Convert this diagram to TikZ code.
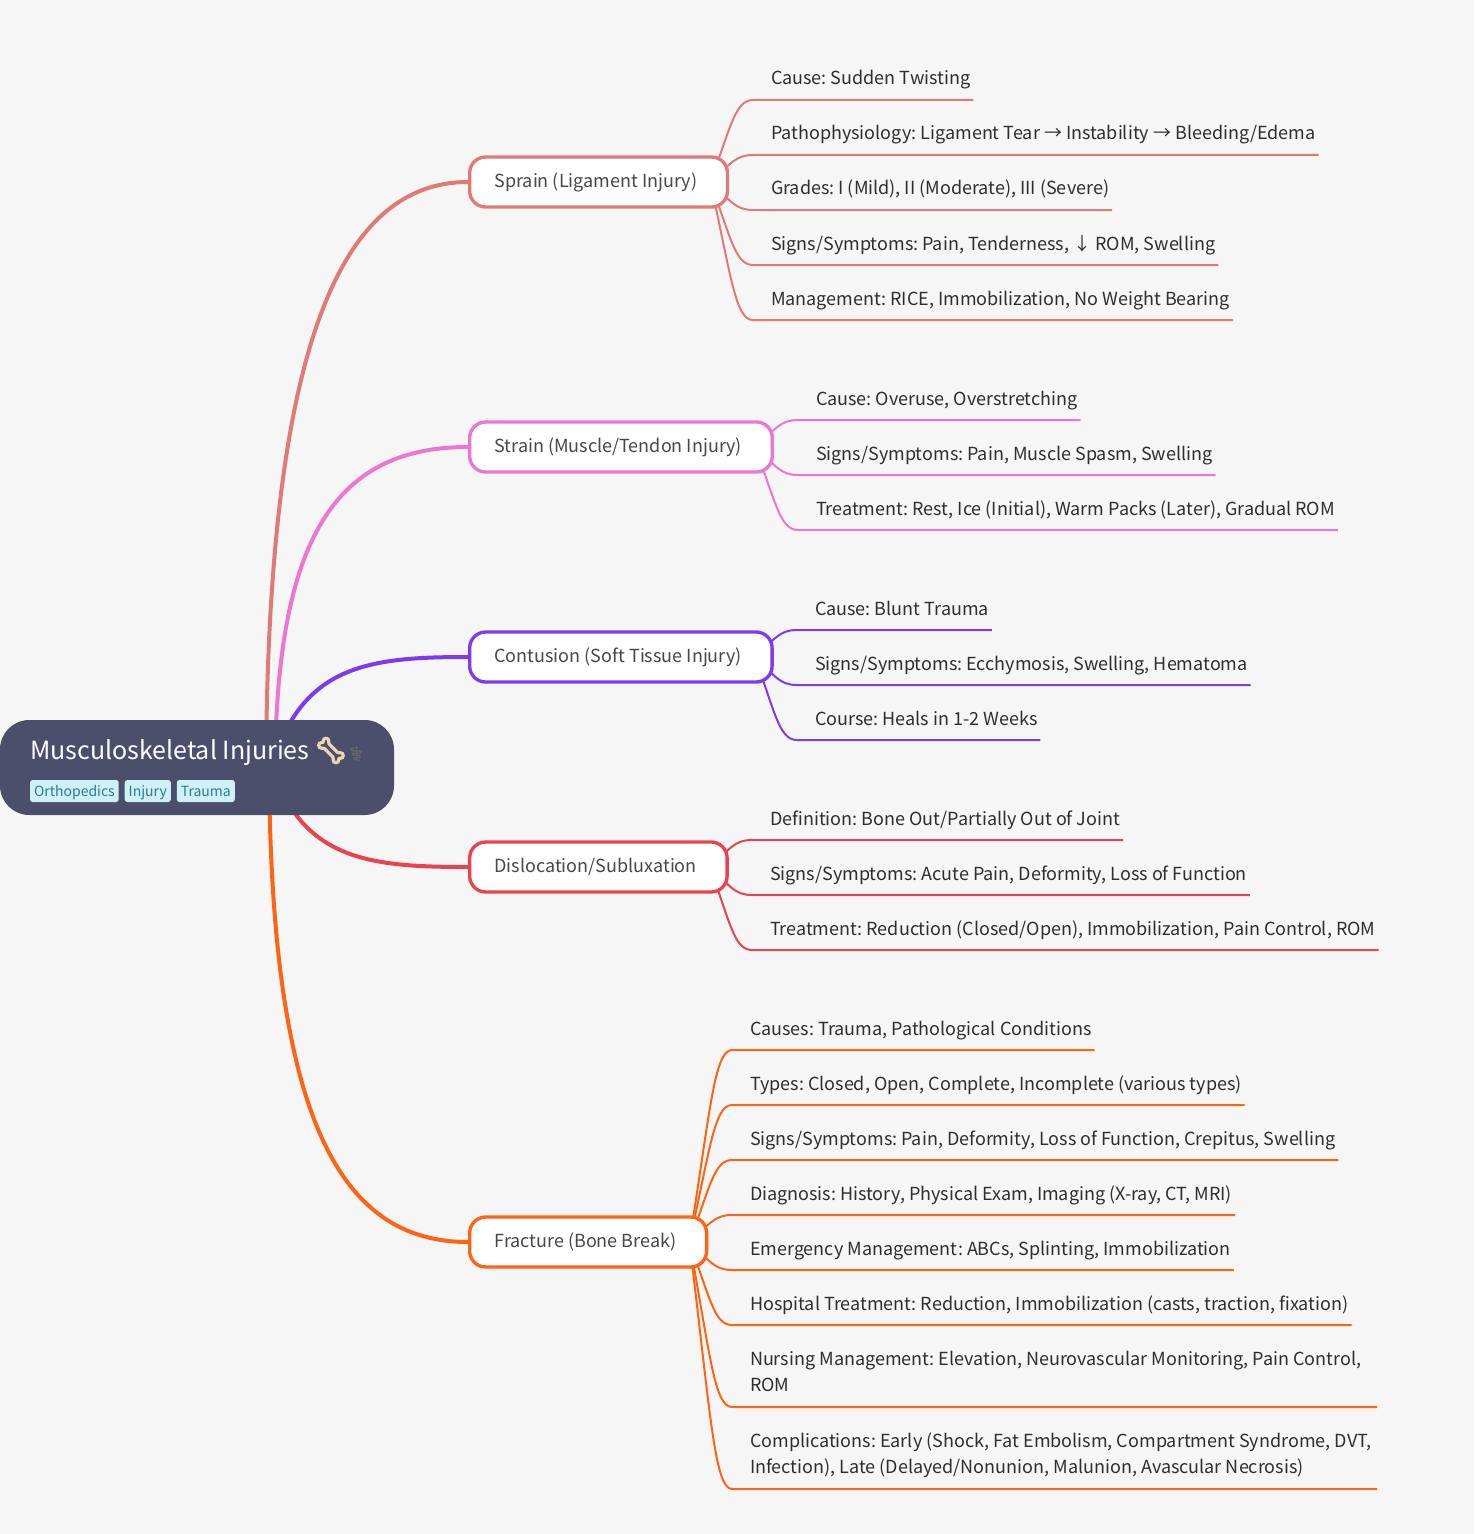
\documentclass[tikz,border=0pt]{standalone}
\usepackage{fontspec}
\setmainfont{Noto Sans CJK SC}
\newfontfamily\emojifont[FakeBold=9]{Noto Emoji}
\newfontfamily\symbolfont{Noto Emoji}
\frenchspacing
\usetikzlibrary{positioning,calc,backgrounds}

\definecolor{pagebg}{HTML}{F6F6F6}
\definecolor{rootbg}{HTML}{4C4F6B}
\definecolor{tagbg}{HTML}{CFF0F6}
\definecolor{tagtext}{HTML}{2B7A91}
\definecolor{sprainc}{HTML}{E07A78}
\definecolor{strainc}{HTML}{EC76D2}
\definecolor{contusionc}{HTML}{7F3AF0}
\definecolor{dislocc}{HTML}{E8434F}
\definecolor{fracturec}{HTML}{FF6414}

\tikzset{
  topic/.style={rectangle, rounded corners=12pt, draw=#1, line width=2.5pt, fill=white, text=black!72, inner xsep=18.6pt, inner ysep=0pt, minimum height=37.5pt, anchor=west, font=\fontsize{13.5}{19.5}\selectfont, text height=14pt, text depth=6.5pt, execute at end node={\hspace*{4.1pt}}},
  leaf/.style={rectangle, inner xsep=2.25pt, inner ysep=0pt, outer sep=0pt, text=black!82, font=\fontsize{13.5}{19.5}\selectfont, text height=30pt, text depth=11.25pt},
  twolines/.style={text width=468pt, align=flush left, text height=30.25pt, text depth=31.25pt},
  tag/.style={rectangle, rounded corners=2pt, fill=tagbg, text=tagtext, inner xsep=3pt, inner ysep=0pt, outer sep=0pt, font=\fontsize{10.5}{13}\selectfont, text height=12.5pt, text depth=4pt},
  trunk/.style={line width=3pt},
  twig/.style={to path={let \p1=(\tikztostart), \p2=(\tikztotarget) in .. controls (\x1+0.48*\x2-0.48*\x1, \y1+0.66*\y2-0.66*\y1) and (\x2-13.5pt,\y2) .. (\tikztotarget)}},
  limb/.style={line width=1.5pt, draw=#1}
}

\begin{document}
\begin{tikzpicture}[x=0.75pt, y=-0.75pt]
  \useasboundingbox (0,0) rectangle (1474,1534);

  \node[rectangle, rounded corners=22pt, fill=rootbg, minimum width=295.5pt, minimum height=71.25pt, anchor=north west, inner sep=0pt, outer sep=0pt] (root) at (0,720) {};
  \coordinate (hub) at (272,767);
  \node[anchor=base west, inner sep=0pt, text=white, font=\fontsize{18.75}{24}\selectfont] (title) at (30,759) {Musculoskeletal Injuries {\emojifont\textcolor[HTML]{EBD6B4}{🦴}}{\symbolfont\fontsize{11}{11}\selectfont\textcolor{black!60}{⚕}}};
  \node[tag, anchor=north west] (orthopedics) at (30,780) {Orthopedics};
  \node[tag, right = 4.5pt of orthopedics] (injury) {Injury};
  \node[tag, right = 4.5pt of injury] (trauma) {Trauma};

  \node[topic=sprainc] (sprain) at (468,182) {Sprain (Ligament Injury)};
  \node[topic=strainc] (strain) at (468,447) {Strain (Muscle/Tendon Injury)};
  \node[topic=contusionc] (contusion) at (468,657) {Contusion (Soft Tissue Injury)};
  \node[topic=dislocc] (disloc) at (468,867) {Dislocation/Subluxation};
  \node[topic=fracturec] (fracture) at (468,1242) {Fracture (Bone Break)};

  % sprain
  \node[leaf, anchor=south west] (sprainA) at (768,100) {Cause: Sudden Twisting};
  \node[leaf] (sprainB) [below right = 0pt and 0pt of sprainA.south west] {Pathophysiology: Ligament Tear → Instability → Bleeding/Edema};
  \node[leaf] (sprainC) [below right = 0pt and 0pt of sprainB.south west] {Grades: I (Mild), II (Moderate), III (Severe)};
  \node[leaf] (sprainD) [below right = 0pt and 0pt of sprainC.south west] {Signs/Symptoms: Pain, Tenderness, ↓ ROM, Swelling};
  \node[leaf] (sprainE) [below right = 0pt and 0pt of sprainD.south west] {Management: RICE, Immobilization, No Weight Bearing};

  % strain
  \node[leaf, anchor=south west] (strainA) at (813,420) {Cause: Overuse, Overstretching};
  \node[leaf] (strainB) [below right = 0pt and 0pt of strainA.south west] {Signs/Symptoms: Pain, Muscle Spasm, Swelling};
  \node[leaf] (strainC) [below right = 0pt and 0pt of strainB.south west] {Treatment: Rest, Ice (Initial), Warm Packs (Later), Gradual ROM};

  % contusion
  \node[leaf, anchor=south west] (contusionA) at (812,630) {Cause: Blunt Trauma};
  \node[leaf] (contusionB) [below right = 0pt and 0pt of contusionA.south west] {Signs/Symptoms: Ecchymosis, Swelling, Hematoma};
  \node[leaf] (contusionC) [below right = 0pt and 0pt of contusionB.south west] {Course: Heals in 1-2 Weeks};

  % dislocation
  \node[leaf, anchor=south west] (doslocA) at (767,840) {Definition: Bone Out/Partially Out of Joint};
  \node[leaf] (doslocB) [below right = 0pt and 0pt of doslocA.south west] {Signs/Symptoms: Acute Pain, Deformity, Loss of Function};
  \node[leaf] (doslocC) [below right = 0pt and 0pt of doslocB.south west] {Treatment: Reduction (Closed/Open), Immobilization, Pain Control, ROM};

  % fracture
  \node[leaf, anchor=south west] (fractureA) at (747,1050) {Causes: Trauma, Pathological Conditions};
  \node[leaf] (fractureB) [below right = 0pt and 0pt of fractureA.south west] {Types: Closed, Open, Complete, Incomplete (various types)};
  \node[leaf] (fractureC) [below right = 0pt and 0pt of fractureB.south west] {Signs/Symptoms: Pain, Deformity, Loss of Function, Crepitus, Swelling};
  \node[leaf] (fractureD) [below right = 0pt and 0pt of fractureC.south west] {Diagnosis: History, Physical Exam, Imaging (X-ray, CT, MRI)};
  \node[leaf] (fractureE) [below right = 0pt and 0pt of fractureD.south west] {Emergency Management: ABCs, Splinting, Immobilization};
  \node[leaf] (fractureF) [below right = 0pt and 0pt of fractureE.south west] {Hospital Treatment: Reduction, Immobilization (casts, traction, fixation)};
  \node[leaf, twolines] (fractureG) [below right = 0pt and 0pt of fractureF.south west] {Nursing Management: Elevation, Neurovascular Monitoring, Pain Control,\\ROM};
  \node[leaf, twolines] (fractureH) [below right = 0pt and 0pt of fractureG.south west] {Complications: Early (Shock, Fat Embolism, Compartment Syndrome, DVT,\\Infection), Late (Delayed/Nonunion, Malunion, Avascular Necrosis)};

  \begin{scope}[on background layer]
    \fill[pagebg] (0,0) rectangle (1474,1534);

    \draw[trunk, sprainc] ([xshift=-4.5pt]hub) .. controls +(2,-417) and +(-129,0) .. (sprain.west);
    \draw[trunk, strainc] ([xshift=2.25pt]hub) .. controls +(2,-227) and +(-134,0) .. (strain.west);
    \draw[trunk, contusionc] (hub) .. controls +(29,-102) and +(-99,0) .. (contusion.west);
    \draw[trunk, dislocc] (hub) .. controls +(31,93) and +(-99,0) .. (disloc.west);
    \draw[trunk, fracturec] ([xshift=-2.25pt]hub) .. controls +(2,350) and +(-129,0) .. (fracture.west);

    \draw[limb=sprainc] ([xshift=-14.25pt]sprain.east) to[twig] ([xshift=-11.25pt]sprainA.south west) -- (sprainA.south east);
    \draw[limb=sprainc] ([xshift=-14.25pt]sprain.east) to[twig] ([xshift=-11.25pt]sprainB.south west) -- (sprainB.south east);
    \draw[limb=sprainc] ([xshift=-14.25pt]sprain.east) to[twig] ([xshift=-11.25pt]sprainC.south west) -- (sprainC.south east);
    \draw[limb=sprainc] ([xshift=-14.25pt]sprain.east) to[twig] ([xshift=-11.25pt]sprainD.south west) -- (sprainD.south east);
    \draw[limb=sprainc] ([xshift=-14.25pt]sprain.east) to[twig] ([xshift=-11.25pt]sprainE.south west) -- (sprainE.south east);

    \draw[limb=strainc] ([xshift=-14.25pt]strain.east) to[twig] ([xshift=-11.25pt]strainA.south west) -- (strainA.south east);
    \draw[limb=strainc] ([xshift=-14.25pt]strain.east) to[twig] ([xshift=-11.25pt]strainB.south west) -- (strainB.south east);
    \draw[limb=strainc] ([xshift=-14.25pt]strain.east) to[twig] ([xshift=-11.25pt]strainC.south west) -- (strainC.south east);

    \draw[limb=contusionc] ([xshift=-14.25pt]contusion.east) to[twig] ([xshift=-11.25pt]contusionA.south west) -- (contusionA.south east);
    \draw[limb=contusionc] ([xshift=-14.25pt]contusion.east) to[twig] ([xshift=-11.25pt]contusionB.south west) -- (contusionB.south east);
    \draw[limb=contusionc] ([xshift=-14.25pt]contusion.east) to[twig] ([xshift=-11.25pt]contusionC.south west) -- (contusionC.south east);

    \draw[limb=dislocc] ([xshift=-14.25pt]disloc.east) to[twig] ([xshift=-11.25pt]doslocA.south west) -- (doslocA.south east);
    \draw[limb=dislocc] ([xshift=-14.25pt]disloc.east) to[twig] ([xshift=-11.25pt]doslocB.south west) -- (doslocB.south east);
    \draw[limb=dislocc] ([xshift=-14.25pt]disloc.east) to[twig] ([xshift=-11.25pt]doslocC.south west) -- (doslocC.south east);

    \draw[limb=fracturec] ([xshift=-14.25pt]fracture.east) to[twig] ([xshift=-11.25pt]fractureA.south west) -- (fractureA.south east);
    \draw[limb=fracturec] ([xshift=-14.25pt]fracture.east) to[twig] ([xshift=-11.25pt]fractureB.south west) -- (fractureB.south east);
    \draw[limb=fracturec] ([xshift=-14.25pt]fracture.east) to[twig] ([xshift=-11.25pt]fractureC.south west) -- (fractureC.south east);
    \draw[limb=fracturec] ([xshift=-14.25pt]fracture.east) to[twig] ([xshift=-11.25pt]fractureD.south west) -- (fractureD.south east);
    \draw[limb=fracturec] ([xshift=-14.25pt]fracture.east) to[twig] ([xshift=-11.25pt]fractureE.south west) -- (fractureE.south east);
    \draw[limb=fracturec] ([xshift=-14.25pt]fracture.east) to[twig] ([xshift=-11.25pt]fractureF.south west) -- (fractureF.south east);
    \draw[limb=fracturec] ([xshift=-14.25pt]fracture.east) to[twig] ([xshift=-11.25pt]fractureG.south west) -- (fractureG.south east);
    \draw[limb=fracturec] ([xshift=-14.25pt]fracture.east) to[twig] ([xshift=-11.25pt]fractureH.south west) -- (fractureH.south east);
  \end{scope}
\end{tikzpicture}
\end{document}
